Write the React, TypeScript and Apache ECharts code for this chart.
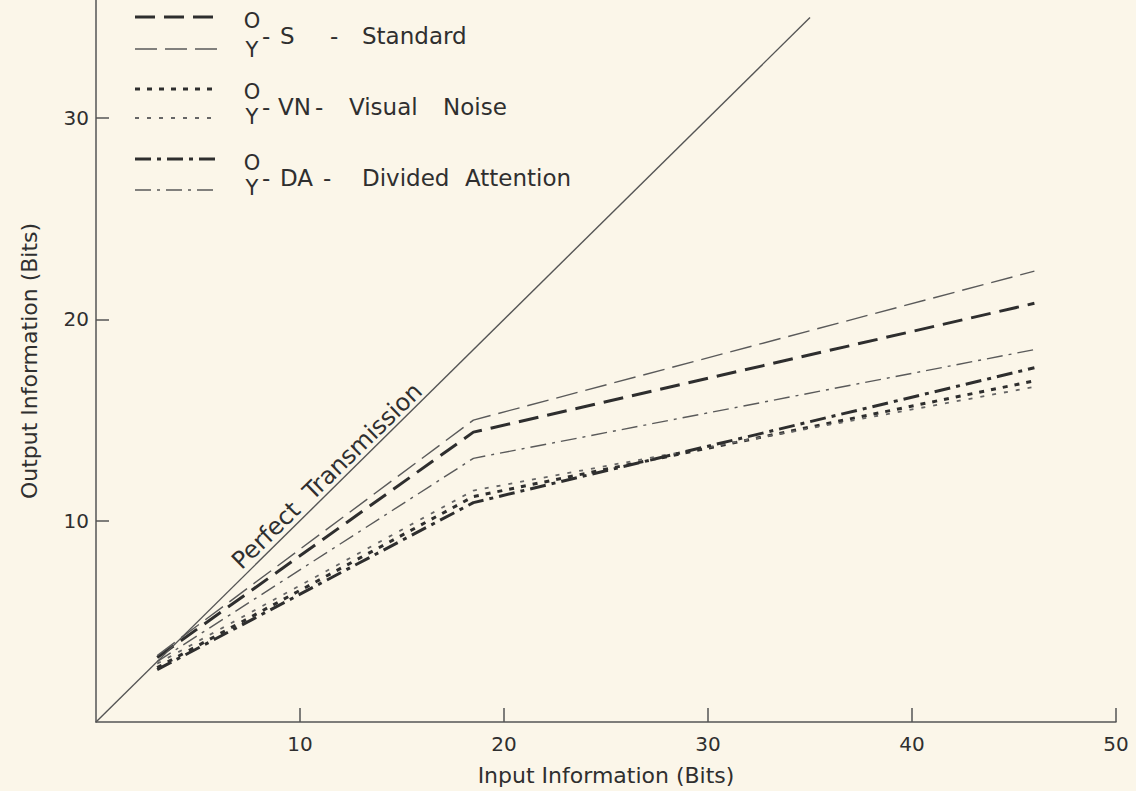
import React, { useEffect, useRef } from "react";
import * as echarts from "echarts";

// ---- data ----
const inputBits = [3, 18.5, 46];
const standardO = [3.2, 14.4, 20.8];
const standardY = [3.3, 15.0, 22.4];
const noiseO = [2.7, 11.2, 16.95];
const noiseY = [2.9, 11.5, 16.65];
const attentionO = [2.6, 10.9, 17.6];
const attentionY = [3.0, 13.1, 18.5];
const perfectX = [0, 35];
const perfectY = [0, 35];
const xTickValues = [10, 20, 30, 40, 50];
const yTickValues = [10, 20, 30];

const FONT = "DejaVu Sans";
const INK = "#2f2f2f";
const BG = "#fbf6e9";

const styles: Record<string, { color: string; width: number; type: number[] }> = {
  standardO: { color: "#2e2e2e", width: 3, type: [20, 9] },
  standardY: { color: "#5a5a5a", width: 1.4, type: [22, 8] },
  noiseO: { color: "#2e2e2e", width: 3, type: [5, 7] },
  noiseY: { color: "#666666", width: 1.8, type: [4, 8] },
  attentionO: { color: "#2e2e2e", width: 3, type: [16, 6, 4, 6] },
  attentionY: { color: "#5a5a5a", width: 1.4, type: [16, 6, 3, 6] },
};

const seriesDefs: [string, number[]][] = [
  ["standardO", standardO],
  ["standardY", standardY],
  ["noiseO", noiseO],
  ["noiseY", noiseY],
  ["attentionO", attentionO],
  ["attentionY", attentionY],
];

const legendRows = [
  { o: "standardO", y: "standardY", ly1: 17, ly2: 49, oy: 21, yy: 50, ty: 36, parts: [["-", 262], ["S", 280], ["-", 330], ["Standard", 362]] },
  { o: "noiseO", y: "noiseY", ly1: 89, ly2: 118, oy: 92, yy: 117, ty: 107, parts: [["-", 262], ["VN", 278], ["-", 315], ["Visual", 349], ["Noise", 443]] },
  { o: "attentionO", y: "attentionY", ly1: 159, ly2: 190, oy: 163, yy: 188, ty: 178, parts: [["-", 262], ["DA", 280], ["-", 323], ["Divided", 362], ["Attention", 465]] },
];

function txt(text: string, x: number, y: number, size: number, align = "left", rotation = 0) {
  return {
    type: "text",
    x,
    y,
    rotation,
    silent: true,
    style: {
      text,
      fill: INK,
      font: `${size}px "${FONT}"`,
      align,
      verticalAlign: "middle",
      textAlign: align,
      textVerticalAlign: "middle",
    },
  };
}

export default function App() {
  const ref = useRef<HTMLDivElement>(null);
  useEffect(() => {
    if (!ref.current) return;
    const chart = echarts.init(ref.current, null, { renderer: "svg" });

    const series: any[] = seriesDefs.map(([key, vals]) => ({
      type: "line",
      name: key,
      data: inputBits.map((x, i) => [x, vals[i]]),
      symbol: "none",
      lineStyle: { color: styles[key].color, width: styles[key].width, type: styles[key].type },
      z: 3,
    }));
    series.push({
      type: "line",
      name: "perfect",
      data: perfectX.map((x, i) => [x, perfectY[i]]),
      symbol: "none",
      lineStyle: { color: "#555", width: 1.4, type: "solid" },
    });

    const graphics: any[] = [];
    legendRows.forEach((r) => {
      [[r.o, r.ly1], [r.y, r.ly2]].forEach(([k, ly]: any) => {
        graphics.push({
          type: "line",
          silent: true,
          shape: { x1: 135, y1: ly, x2: 218, y2: ly },
          style: { stroke: styles[k].color, lineWidth: styles[k].width, lineDash: styles[k].type },
        });
      });
      graphics.push(txt("O", 252, r.oy, 21, "center"));
      graphics.push(txt("Y", 252, r.yy, 21, "center"));
      r.parts.forEach(([t, x]: any) => graphics.push(txt(t, x, r.ty, 23)));
    });
    graphics.push(txt("Perfect  Transmission", 327, 476, 24, "center", (44.3 * Math.PI) / 180));

    chart.setOption({
      animation: false,
      backgroundColor: BG,
      grid: { left: 96, right: 20, top: 0, bottom: 69, containLabel: false },
      xAxis: {
        type: "value",
        min: 0,
        max: 50,
        interval: 10,
        name: "Input Information (Bits)",
        nameLocation: "middle",
        nameGap: 42,
        nameTextStyle: { fontFamily: FONT, fontSize: 22, color: INK },
        axisLine: { show: true, lineStyle: { color: "#555", width: 1.5 } },
        axisTick: { show: true, inside: true, length: 14, customValues: xTickValues, lineStyle: { color: "#555", width: 1.5 } },
        axisLabel: { customValues: xTickValues, fontFamily: FONT, fontSize: 20, color: INK, margin: 12 },
        splitLine: { show: false },
      },
      yAxis: {
        type: "value",
        min: 0,
        max: 35.87,
        interval: 10,
        name: "Output Information (Bits)",
        nameLocation: "middle",
        nameRotate: 90,
        nameGap: 56,
        nameTextStyle: { fontFamily: FONT, fontSize: 22, color: INK },
        axisLine: { show: true, lineStyle: { color: "#555", width: 1.5 } },
        axisTick: { show: true, inside: true, length: 13, customValues: yTickValues, lineStyle: { color: "#555", width: 1.5 } },
        axisLabel: { customValues: yTickValues, fontFamily: FONT, fontSize: 20, color: INK, margin: 7 },
        splitLine: { show: false },
      },
      series,
      graphic: graphics,
    });
    return () => chart.dispose();
  }, []);
  return (
    <div
      ref={ref}
      style={{ position: "fixed", left: 0, top: 0, width: 1136, height: 791, background: BG }}
    />
  );
}
